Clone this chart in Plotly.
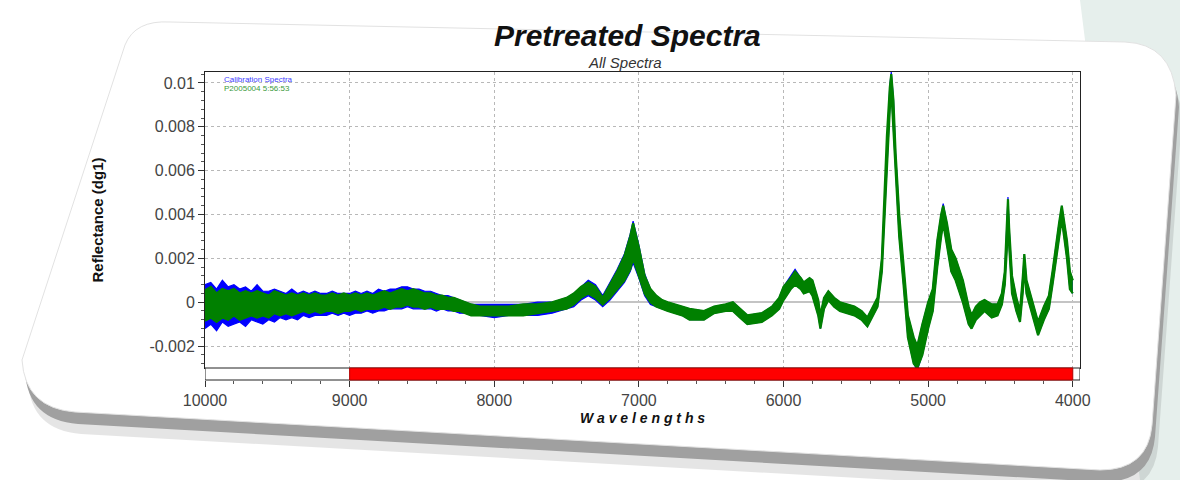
import plotly.graph_objects as go

# ---- spectral data: wavenumber grid and envelopes of the overlaid spectra ----
wavenumber = [
    10000, 9960, 9920, 9880, 9840, 9800, 9760, 9720, 9680, 9640, 9600, 9560, 9520, 9480,
    9440, 9400, 9360, 9320, 9280, 9240, 9200, 9160, 9120, 9080, 9040, 9000, 8960, 8920,
    8880, 8840, 8800, 8760, 8720, 8680, 8640, 8600, 8560, 8520, 8480, 8440, 8400, 8360,
    8320, 8280, 8240, 8200, 8160, 8100, 8000, 7900, 7800, 7700, 7600, 7500, 7450, 7400,
    7350, 7300, 7250, 7200, 7150, 7100, 7060, 7040, 7000, 6960, 6920, 6880, 6840, 6800,
    6700, 6650, 6550, 6480, 6400, 6350, 6300, 6250, 6150, 6080, 6030, 6000, 5950, 5920,
    5880, 5860, 5820, 5800, 5760, 5745, 5720, 5690, 5650, 5610, 5510, 5460, 5420, 5380,
    5350, 5320, 5300, 5285, 5265, 5255, 5240, 5225, 5200, 5170, 5140, 5100, 5075, 5040,
    5000, 4968, 4937, 4910, 4896, 4870, 4840, 4810, 4760, 4720, 4700, 4670, 4640, 4610,
    4560, 4520, 4490, 4470, 4456, 4448, 4440, 4420, 4390, 4365, 4345, 4335, 4320, 4280,
    4240, 4200, 4165, 4140, 4120, 4095, 4076, 4060, 4040, 4020, 4000,
]

# validation spectra (green) - lower and upper envelope
green_low = [
    -0.00085, -0.0007, -0.0009, -0.0007, -0.0008, -0.0006, -0.0008, -0.0007, -0.0006, -0.0007, -0.0006, -0.0007, -0.0005, -0.0006,
    -0.0005, -0.0006, -0.0005, -0.0004, -0.0005, -0.0004, -0.0005, -0.0004, -0.0004, -0.0005, -0.0004, -0.0004, -0.0003, -0.0004,
    -0.0003, -0.0003, -0.0003, -0.0002, -0.0003, -0.0002, -0.0002, -0.0001, -0.0002, -0.0002, -0.0003, -0.0002, -0.0003, -0.0003,
    -0.0003, -0.0004, -0.0004, -0.0005, -0.0006, -0.0006, -0.0006, -0.0006, -0.0006, -0.0005, -0.0004, -0.0003, -0.0001, 0.0002,
    0.0004, 0.0002, -0.0001, 0.0002, 0.0006, 0.0010, 0.0015, 0.0020, 0.0012, 0.0004, 0.0000, -0.0002, -0.0003, -0.0004,
    -0.0006, -0.0008, -0.0008, -0.0005, -0.0004, -0.0004, -0.0007, -0.0010, -0.0009, -0.0006, -0.0003, 0.0001, 0.0006, 0.0008,
    0.0006, 0.0004, 0.0005, 0.0003, -0.0006, -0.0012, -0.0003, 0.0001, -0.0002, -0.0004, -0.0006, -0.0008, -0.0011, -0.0006,
    -0.0002, 0.0014, 0.0040, 0.0066, 0.0088, 0.0097, 0.0080, 0.0058, 0.0030, 0.0008, -0.0016, -0.0028, -0.0030, -0.0024,
    -0.0012, -0.0004, 0.0016, 0.0030, 0.0036, 0.0026, 0.0014, 0.0010, 0.0000, -0.0010, -0.0012, -0.0008, -0.0006, -0.0004,
    -0.0007, -0.0006, -0.0001, 0.0008, 0.0024, 0.0040, 0.0026, 0.0004, -0.0004, -0.0009, 0.0005, 0.0016, 0.0004, -0.0006,
    -0.0015, -0.0008, -0.0003, 0.0008, 0.0018, 0.0030, 0.0038, 0.0030, 0.0020, 0.0006, 0.0004,
]
green_high = [
    0.00055, 0.0007, 0.0004, 0.0006, 0.0005, 0.0006, 0.0004, 0.0005, 0.0004, 0.0005, 0.0004, 0.0003, 0.0005, 0.0004,
    0.0003, 0.0004, 0.0003, 0.0004, 0.0003, 0.0004, 0.0003, 0.0003, 0.0004, 0.0003, 0.0004, 0.0003, 0.0004, 0.0003,
    0.0004, 0.0003, 0.0004, 0.0005, 0.0004, 0.0005, 0.0006, 0.0005, 0.0006, 0.0005, 0.0004, 0.0004, 0.0003, 0.0003,
    0.0002, 0.0002, 0.0001, 0.0000, -0.0001, -0.0002, -0.0002, -0.0002, -0.0001, -0.0001, 0.0000, 0.0002, 0.0004, 0.0007,
    0.0009, 0.0007, 0.0002, 0.0008, 0.0014, 0.0021, 0.0030, 0.0036, 0.0025, 0.0012, 0.0006, 0.0003, 0.0001, 0.0000,
    -0.0002, -0.0003, -0.0004, -0.0002, -0.0001, 0.0000, -0.0003, -0.0006, -0.0005, -0.0002, 0.0002, 0.0007, 0.0011, 0.0014,
    0.0011, 0.0009, 0.0011, 0.0010, 0.0001, -0.0006, 0.0002, 0.0005, 0.0002, 0.0000, -0.0002, -0.0004, -0.0007, -0.0002,
    0.0002, 0.0020, 0.0050, 0.0076, 0.0098, 0.0104, 0.0092, 0.0068, 0.0040, 0.0016, -0.0006, -0.0016, -0.0020, -0.0010,
    0.0000, 0.0006, 0.0028, 0.0040, 0.0044, 0.0036, 0.0024, 0.0020, 0.0010, -0.0002, -0.0006, -0.0002, 0.0000, 0.0001,
    -0.0001, -0.0001, 0.0004, 0.0014, 0.0032, 0.0047, 0.0034, 0.0012, 0.0002, -0.0004, 0.0012, 0.0022, 0.0010, 0.0000,
    -0.0009, -0.0002, 0.0003, 0.0014, 0.0025, 0.0036, 0.0044, 0.0037, 0.0028, 0.0014, 0.0010,
]

# calibration spectra (blue) - lower and upper envelope
blue_low = [
    -0.0012, -0.0010, -0.0013, -0.0009, -0.0011, -0.0010, -0.0009, -0.0011, -0.0008, -0.0009, -0.0010, -0.0008, -0.0009, -0.0007,
    -0.0008, -0.0007, -0.0008, -0.0006, -0.0007, -0.0006, -0.0006, -0.0006, -0.0005, -0.0006, -0.0005, -0.0006, -0.0005, -0.0005,
    -0.0004, -0.0005, -0.0004, -0.0004, -0.0003, -0.0003, -0.0003, -0.0002, -0.0003, -0.0003, -0.0003, -0.0003, -0.0004, -0.0003,
    -0.0004, -0.0004, -0.0005, -0.0005, -0.0006, -0.0006, -0.0007, -0.0006, -0.0006, -0.0006, -0.0005, -0.0003, -0.0002, 0.0001,
    0.0003, 0.0001, -0.0002, 0.0001, 0.0005, 0.0009, 0.0014, 0.0018, 0.0011, 0.0003, -0.0001, -0.0002, -0.0003, -0.0004,
    -0.0006, -0.0008, -0.0008, -0.0005, -0.0004, -0.0004, -0.0007, -0.0010, -0.0009, -0.0006, -0.0003, 0.0001, 0.0006, 0.0008,
    0.0006, 0.0004, 0.0005, 0.0003, -0.0006, -0.0012, -0.0003, 0.0001, -0.0002, -0.0004, -0.0006, -0.0008, -0.0011, -0.0006,
    -0.0002, 0.0014, 0.0040, 0.0066, 0.0088, 0.0097, 0.0080, 0.0058, 0.0030, 0.0008, -0.0016, -0.0028, -0.0031, -0.0024,
    -0.0012, -0.0004, 0.0016, 0.0030, 0.0036, 0.0026, 0.0014, 0.0010, 0.0000, -0.0010, -0.0012, -0.0008, -0.0006, -0.0004,
    -0.0007, -0.0006, -0.0001, 0.0008, 0.0024, 0.0040, 0.0026, 0.0004, -0.0004, -0.0009, 0.0005, 0.0016, 0.0004, -0.0006,
    -0.0015, -0.0008, -0.0003, 0.0008, 0.0018, 0.0030, 0.0038, 0.0030, 0.0020, 0.0006, 0.0004,
]
blue_high = [
    0.0008, 0.0009, 0.0006, 0.0010, 0.0007, 0.0008, 0.0006, 0.0007, 0.0005, 0.0008, 0.0005, 0.0005, 0.0006, 0.0005,
    0.0004, 0.0006, 0.0004, 0.0005, 0.0004, 0.0005, 0.0004, 0.0004, 0.0005, 0.0004, 0.0004, 0.0004, 0.0005, 0.0004,
    0.0005, 0.0004, 0.0006, 0.0005, 0.0006, 0.0006, 0.0007, 0.0007, 0.0006, 0.0006, 0.0005, 0.0005, 0.0004, 0.0003,
    0.0003, 0.0002, 0.0001, 0.0000, -0.0001, -0.0001, -0.0001, -0.0001, -0.0001, 0.0000, 0.0000, 0.0002, 0.0004, 0.0007,
    0.0010, 0.0008, 0.0003, 0.0009, 0.0015, 0.0022, 0.0031, 0.0037, 0.0026, 0.0013, 0.0006, 0.0003, 0.0001, 0.0000,
    -0.0002, -0.0003, -0.0004, -0.0002, -0.0001, 0.0000, -0.0003, -0.0006, -0.0005, -0.0002, 0.0002, 0.0007, 0.0012, 0.0015,
    0.0011, 0.0009, 0.0011, 0.0010, 0.0001, -0.0006, 0.0002, 0.0005, 0.0002, 0.0000, -0.0002, -0.0004, -0.0007, -0.0002,
    0.0002, 0.0020, 0.0050, 0.0076, 0.0099, 0.0105, 0.0093, 0.0068, 0.0040, 0.0016, -0.0006, -0.0016, -0.0020, -0.0010,
    0.0000, 0.0006, 0.0028, 0.0040, 0.0045, 0.0036, 0.0024, 0.0020, 0.0010, -0.0002, -0.0006, -0.0002, 0.0000, 0.0001,
    -0.0001, -0.0001, 0.0004, 0.0014, 0.0032, 0.0048, 0.0034, 0.0012, 0.0002, -0.0004, 0.0012, 0.0022, 0.0010, 0.0000,
    -0.0009, -0.0002, 0.0003, 0.0014, 0.0025, 0.0036, 0.0044, 0.0037, 0.0028, 0.0014, 0.0010,
]

# selected spectral region shown as the red bar under the plot
region_start = 9000
region_end = 4000

y_ticks = [-0.002, 0, 0.002, 0.004, 0.006, 0.008, 0.01]
y_tick_text = ["-0.002", "0", "0.002", "0.004", "0.006", "0.008", "0.01"]
x_ticks = [10000, 9000, 8000, 7000, 6000, 5000, 4000]
x_tick_text = ["10000", "9000", "8000", "7000", "6000", "5000", "4000"]

# ---- page geometry ----
W, H = 1180, 480
ML, MR, MT, MB = 205, 100, 72, 70
PLOT_BOTTOM_PX = 368
BAR_BOTTOM_PX = 380


def px(x):
    return (x - ML) / (W - ML - MR)


def py(y):
    return 1 - (y - MT) / (H - MT - MB)


def path_from(points, dx=0, dy=0):
    """Build an SVG path in paper units from pixel commands."""
    out = []
    for cmd in points:
        op, coords = cmd[0], cmd[1:]
        parts = []
        for i in range(0, len(coords), 2):
            parts.append(f"{px(coords[i] + dx):.5f},{py(coords[i + 1] + dy):.5f}")
        out.append(op + " " + " ".join(parts))
    return " ".join(out) + " Z"


card_outline = [
    ("M", 170, 22), ("L", 1125, 42), ("Q", 1172, 44, 1176, 95),
    ("L", 1152, 425), ("Q", 1148, 470, 1100, 470), ("L", 75, 412),
    ("Q", 25, 408, 22, 360), ("L", 125, 45), ("Q", 135, 20, 170, 22),
]

FONT = "Liberation Sans, Arial, sans-serif"
GREEN = "#008000"
BLUE = "#0000ff"

fig = go.Figure()

# calibration envelope (behind)
fig.add_trace(go.Scatter(x=wavenumber, y=blue_low, mode="lines",
                         line=dict(color=BLUE, width=1.2), hoverinfo="skip",
                         showlegend=False))
fig.add_trace(go.Scatter(x=wavenumber, y=blue_high, mode="lines",
                         line=dict(color=BLUE, width=1.2), fill="tonexty",
                         fillcolor=BLUE, name="Calibration Spectra",
                         showlegend=False))
# validation envelope (front)
fig.add_trace(go.Scatter(x=wavenumber, y=green_low, mode="lines",
                         line=dict(color=GREEN, width=2.2), hoverinfo="skip",
                         showlegend=False))
fig.add_trace(go.Scatter(x=wavenumber, y=green_high, mode="lines",
                         line=dict(color=GREEN, width=2.2), fill="tonexty",
                         fillcolor=GREEN, name="P2005004 5:56:53",
                         showlegend=False))

main_dom = [py(PLOT_BOTTOM_PX), 1]
bar_dom = [py(BAR_BOTTOM_PX), py(PLOT_BOTTOM_PX)]

shapes = [
    # page tint at the right edge
    dict(type="path", xref="paper", yref="paper", layer="below",
         path=path_from([("M", 1080, 0), ("L", 1180, 0), ("L", 1180, 480), ("L", 1140, 480)]),
         fillcolor="#e6efec", line=dict(width=0)),
    # soft drop shadow and rim of the card
    dict(type="path", xref="paper", yref="paper", layer="below",
         path=path_from(card_outline, dx=6, dy=22),
         fillcolor="rgba(0,0,0,0.10)", line=dict(width=0)),
    dict(type="path", xref="paper", yref="paper", layer="below",
         path=path_from(card_outline, dx=3, dy=12),
         fillcolor="#a0a0a0", line=dict(width=0)),
    dict(type="path", xref="paper", yref="paper", layer="below",
         path=path_from(card_outline),
         fillcolor="#ffffff", line=dict(color="#e2e2e2", width=1)),
    # region bar under the plot
    dict(type="rect", xref="x2", yref="y2 domain", x0=10000, x1=3950, y0=0, y1=1,
         fillcolor="white", line=dict(color="#222", width=1), layer="above"),
    dict(type="rect", xref="x2", yref="y2 domain", x0=region_start, x1=region_end, y0=0, y1=1,
         fillcolor="#ff0000", line=dict(color="#b00000", width=1), layer="above"),
]

annotations = [
    dict(text="<b><i>Pretreated Spectra</i></b>", x=px(627), y=py(36),
         xref="paper", yref="paper", showarrow=False,
         xanchor="center", yanchor="middle",
         font=dict(family=FONT, size=30, color="#111")),
    dict(text="<i>All Spectra</i>", x=px(625), y=py(62),
         xref="paper", yref="paper", showarrow=False,
         xanchor="center", yanchor="middle",
         font=dict(family=FONT, size=15, color="#333")),
    dict(text="Calibration Spectra", x=px(222), y=py(79), xanchor="left",
         yanchor="middle", xref="paper", yref="paper", showarrow=False,
         font=dict(family=FONT, size=8, color="#4040ff")),
    dict(text="P2005004 5:56:53", x=px(222), y=py(88), xanchor="left",
         yanchor="middle", xref="paper", yref="paper", showarrow=False,
         font=dict(family=FONT, size=8, color="#3a9a3a")),
]

grid_style = dict(showgrid=True, gridcolor="#b8b8b8", griddash="dot", gridwidth=1)

fig.update_layout(
    width=W, height=H,
    margin=dict(l=ML, r=MR, t=MT, b=MB),
    paper_bgcolor="white",
    plot_bgcolor="white",
    showlegend=False,
    shapes=shapes,
    annotations=annotations,
    font=dict(family=FONT, color="#333"),
    xaxis=dict(
        domain=[0, 1], anchor="y", range=[10000, 3950],
        tickvals=x_ticks, showticklabels=False, ticks="",
        showline=True, linecolor="#222", linewidth=1, mirror=True,
        zeroline=False, **grid_style,
    ),
    yaxis=dict(
        domain=main_dom, anchor="x", range=[-0.003, 0.0105],
        tickvals=y_ticks, ticktext=y_tick_text,
        ticks="outside", ticklen=6, tickcolor="#333",
        minor=dict(dtick=0.0004, ticks="outside", ticklen=3, tickcolor="#555", showgrid=False),
        tickfont=dict(family=FONT, size=16, color="#444"),
        showline=True, linecolor="#222", linewidth=1, mirror=True,
        zeroline=True, zerolinecolor="#c4c4c4", zerolinewidth=1.5,
        title=dict(text="<b>Reflectance (dg1)</b>", standoff=42,
                   font=dict(family=FONT, size=15, color="#111")),
        **grid_style,
    ),
    xaxis2=dict(
        domain=[0, 1], anchor="y2", matches="x", range=[10000, 3950],
        tickvals=x_ticks, ticktext=x_tick_text,
        ticks="outside", ticklen=6, tickcolor="#333",
        minor=dict(dtick=200, ticks="outside", ticklen=3, tickcolor="#555", showgrid=False),
        tickfont=dict(family=FONT, size=16, color="#444"),
        showgrid=False, zeroline=False, showline=False,
        title=dict(text="<b><i>W a v e l e n g t h s</i></b>", standoff=4,
                   font=dict(family=FONT, size=14, color="#111")),
    ),
    yaxis2=dict(domain=bar_dom, anchor="x2", range=[0, 1],
                showticklabels=False, showgrid=False, zeroline=False, ticks=""),
)

fig.write_html("out.html")
